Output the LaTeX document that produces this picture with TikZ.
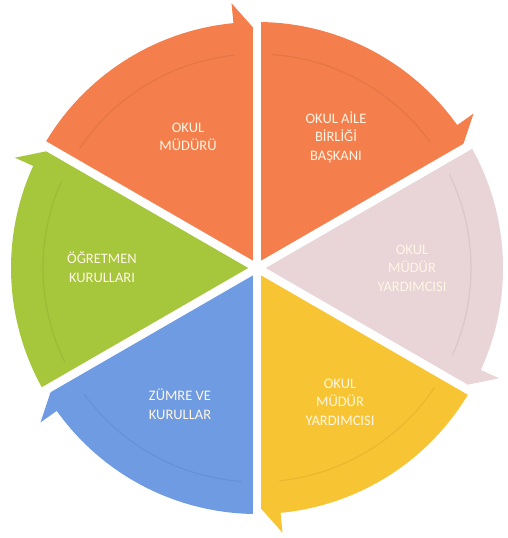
\documentclass[tikz,border=0pt]{standalone}
\usepackage{fontspec}
\setmainfont{Carlito}
\usetikzlibrary{calc}
\definecolor{segorange}{HTML}{F47E4C}
\definecolor{segpink}{HTML}{E9D4D8}
\definecolor{segyellow}{HTML}{F7C533}
\definecolor{segblue}{HTML}{6E9BE2}
\definecolor{seggreen}{HTML}{A6C63C}
\definecolor{labeltext}{HTML}{FFF6E4}
\begin{document}
\begin{tikzpicture}[x=1pt,y=1pt,
  seglabel/.style={text=labeltext,font=\fontsize{14.5}{18.5}\selectfont,align=center,inner sep=0pt},
  gapline/.style={white,line width=8.5pt},
  innerarc/.style={line width=1.2pt,opacity=0.15}]
\useasboundingbox (0,0) rectangle (507,538);
\fill[white] (0,0) rectangle (507,538);
\coordinate (c) at (257,270);
% sectors: start angle a (ccw end), going clockwise to b
\newcommand{\segshape}[3]{%
  \fill[#1] (c) -- ++(#2:246) arc[start angle=#2, end angle=#3+5.5, radius=246]
    -- ($(c)+(#3+5.5:266)$) -- ($(c)+(#3:236)$) -- cycle;
  \draw[innerarc,#1!60!black] ($(c)+(#2-4:214)$) arc[start angle=#2-4, end angle=#3+6, radius=214];}
\segshape{segorange}{150}{90}
\segshape{segorange}{90}{30}
\segshape{segpink}{30}{-30}
\segshape{segyellow}{-30}{-90}
\segshape{segblue}{-90}{-150}
\segshape{seggreen}{-150}{-210}
\foreach \ang in {90,30,-30,-90,-150,150}
  \draw[gapline] (c) -- ++(\ang:250);
\node[seglabel] (mudur) at (188,401) {OKUL\\MÜDÜRÜ};
\node[seglabel] (aile) at (336,401) {OKUL AİLE\\BİRLİĞİ\\BAŞKANI};
\node[seglabel] (yard1) at (412,270) {OKUL\\MÜDÜR\\YARDIMCISI};
\node[seglabel] (yard2) at (340,136) {OKUL\\MÜDÜR\\YARDIMCISI};
\node[seglabel] (zumre) at (180,134) {ZÜMRE VE\\KURULLAR};
\node[seglabel] (ogret) at (102,271) {ÖĞRETMEN\\KURULLARI};
\end{tikzpicture}
\end{document}
